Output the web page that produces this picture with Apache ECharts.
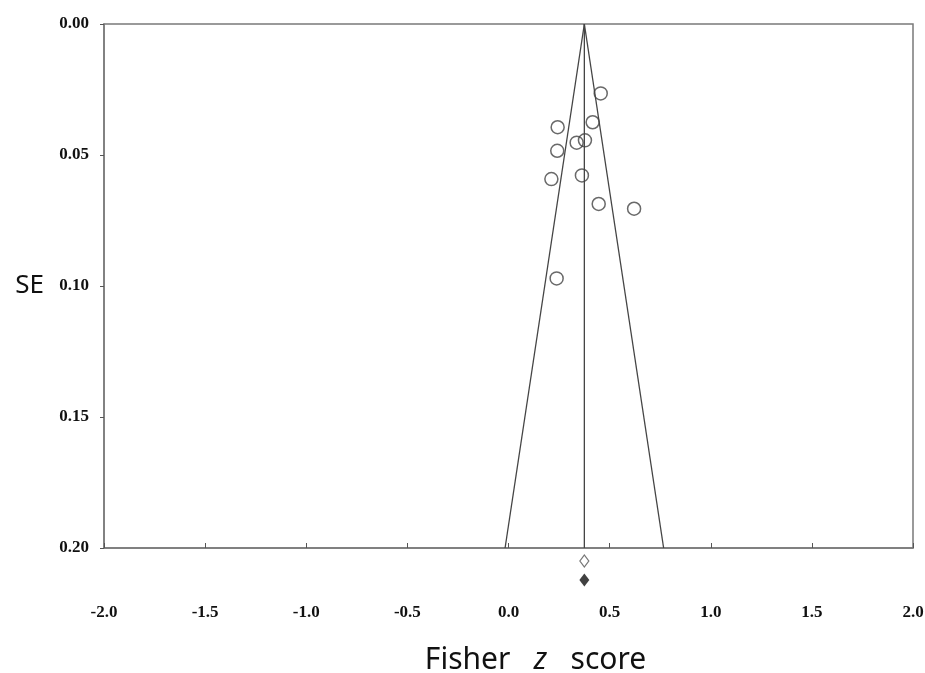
<!DOCTYPE html>
<html>
<head>
<meta charset="utf-8">
<script src="https://cdn.jsdelivr.net/npm/echarts@6/dist/echarts.min.js"></script>
<style>
html, body { margin: 0; padding: 0; background: #fff; }
#funnel { width: 925px; height: 673px; }
</style>
</head>
<body>
<div id="funnel"></div>
<script>
// study effects (Fisher z) and their standard errors
var studyZ  = [0.456, 0.243, 0.416, 0.337, 0.378, 0.241, 0.212, 0.363, 0.446, 0.621, 0.238];
var studySE = [0.0265, 0.0394, 0.0375, 0.0453, 0.0444, 0.0484, 0.0592, 0.0578, 0.0687, 0.0705, 0.0971];

// pooled estimate and funnel limits at SE = 0.20
var funnelLeft = [[0.375, 0], [-0.017, 0.2]];
var funnelRight = [[0.375, 0], [0.767, 0.2]];
var centerLine = [[0.375, 0], [0.375, 0.2]];

// diamonds under the axis (observed / adjusted)
var openDiamond = [[0.375, 0.205]];
var filledDiamond = [[0.375, 0.2122]];

var xTicks = { min: -2, max: 2, step: 0.5 };
var yTicks = { min: 0, max: 0.2, step: 0.05 };

var chart = echarts.init(document.getElementById('funnel'));

var points = [];
for (var i = 0; i < studyZ.length; i++) {
    points.push([studyZ[i], studySE[i]]);
}

var labelFont = {
    fontFamily: 'Liberation Serif',
    fontWeight: 'bold',
    fontSize: 17,
    color: '#111'
};
var lineGray = '#444';

var option = {
    animation: false,
    grid: {
        left: 104,
        top: 24,
        right: 12,
        bottom: 125,
        outerBoundsMode: 'none',
        show: true,
        borderColor: '#7a7a7a',
        borderWidth: 1.5
    },
    xAxis: {
        type: 'value',
        min: xTicks.min,
        max: xTicks.max,
        interval: xTicks.step,
        name: 'Fisher   {z|z}   score',
        nameLocation: 'middle',
        nameGap: 97,
        nameTextStyle: {
            fontFamily: 'Noto Sans',
            fontSize: 30,
            color: '#111',
            padding: [0, 0, 0, 54],
            rich: {
                z: { fontFamily: 'Noto Sans', fontStyle: 'italic', fontSize: 30, color: '#111' }
            }
        },
        axisLine: { show: true, onZero: false, lineStyle: { color: '#7a7a7a', width: 1.5 } },
        axisTick: { show: true, inside: true, length: 5, lineStyle: { color: '#555' } },
        axisLabel: Object.assign({
            margin: 56,
            formatter: function (v) { return v.toFixed(1); }
        }, labelFont),
        splitLine: { show: false }
    },
    yAxis: {
        type: 'value',
        inverse: true,
        min: yTicks.min,
        max: yTicks.max,
        interval: yTicks.step,
        name: 'SE',
        nameLocation: 'middle',
        nameRotate: 0,
        nameGap: 60,
        nameTextStyle: {
            fontFamily: 'Noto Sans',
            fontSize: 26,
            color: '#111'
        },
        axisLine: { show: true, onZero: false, lineStyle: { color: '#7a7a7a', width: 1.5 } },
        axisTick: { show: true, length: 4, lineStyle: { color: '#555' } },
        axisLabel: Object.assign({
            margin: 15,
            formatter: function (v) { return v.toFixed(2); }
        }, labelFont),
        splitLine: { show: false }
    },
    series: [
        {
            type: 'line',
            data: funnelLeft,
            symbol: 'none',
            lineStyle: { color: lineGray, width: 1.3 }
        },
        {
            type: 'line',
            data: funnelRight,
            symbol: 'none',
            lineStyle: { color: lineGray, width: 1.3 }
        },
        {
            type: 'line',
            data: centerLine,
            symbol: 'none',
            lineStyle: { color: lineGray, width: 1.3 }
        },
        {
            type: 'scatter',
            data: points,
            symbol: 'circle',
            symbolSize: 13,
            itemStyle: {
                color: 'rgba(0,0,0,0)',
                borderColor: '#444',
                borderWidth: 1.5
            }
        },
        {
            type: 'scatter',
            data: openDiamond,
            clip: false,
            symbol: 'diamond',
            symbolSize: [9, 12],
            itemStyle: {
                color: '#fff',
                borderColor: '#555',
                borderWidth: 1.2
            }
        },
        {
            type: 'scatter',
            data: filledDiamond,
            clip: false,
            symbol: 'diamond',
            symbolSize: [10, 13],
            itemStyle: { color: '#111' }
        }
    ]
};

chart.setOption(option);
</script>
</body>
</html>
